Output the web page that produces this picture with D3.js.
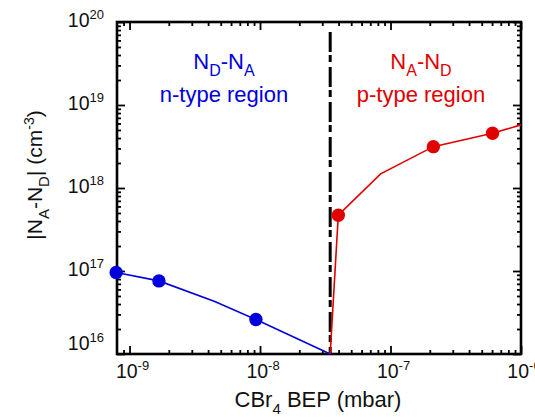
<!DOCTYPE html>
<html><head><meta charset="utf-8">
<script src="https://cdn.jsdelivr.net/npm/d3@7"></script>
<style>
html,body{margin:0;padding:0;background:#fff;}
svg{display:block;font-family:"Liberation Sans",Arial,sans-serif;}
</style></head>
<body>
<svg id="chart" width="535" height="417"></svg>
<script>
// ---- data ----
const nLineX = [7.9e-10, 1.68e-9, 4.5e-9, 9.3e-9, 3.45e-8];
const nLineY = [9.6e16, 7.6e16, 4.3e16, 2.6e16, 1e16];
const nPointX = [7.9e-10, 1.68e-9, 9.3e-9];
const nPointY = [9.6e16, 7.6e16, 2.6e16];
const pLineX = [3.45e-8, 3.98e-8, 8.4e-8, 2.13e-7, 6.05e-7, 1e-6];
const pLineY = [1e16, 4.7e17, 1.48e18, 3.15e18, 4.56e18, 5.76e18];
const pPointX = [3.98e-8, 2.13e-7, 6.05e-7];
const pPointY = [4.7e17, 3.15e18, 4.56e18];
const boundaryX = [3.45e-8];
const xTickExp = [-9, -8, -7, -6];
const yTickExp = [16, 17, 18, 19, 20];

const W = 535, H = 417;
const m = {left: 117, right: 14, top: 22, bottom: 63};
const svg = d3.select("#chart");
const x = d3.scaleLog().domain([Math.pow(10, -9.096), 1e-6]).range([m.left, W - m.right]);
const y = d3.scaleLog().domain([1e16, 1e20]).range([H - m.bottom, m.top]);

const blue = "#0000dc", red = "#e00000";

function minors(scale) {
  const [a, b] = scale.domain();
  const out = [];
  for (let e = Math.floor(Math.log10(a)); e <= Math.ceil(Math.log10(b)); e++) {
    for (let k = 2; k <= 9; k++) {
      const v = k * Math.pow(10, e);
      if (v >= a * 1.0001 && v <= b * 0.9999) out.push(v);
    }
  }
  return out;
}
const xMaj = xTickExp.map(e => Math.pow(10, e));
const yMaj = yTickExp.map(e => Math.pow(10, e));

function axisG(gen, tr) {
  const g = svg.append("g").attr("transform", tr).call(gen);
  g.selectAll("text").remove();
  g.select(".domain").remove();
  g.selectAll("line").attr("stroke", "#000").attr("stroke-width", 1.8);
  return g;
}
const bY = H - m.bottom, tY = m.top, lX = m.left, rX = W - m.right;
axisG(d3.axisBottom(x).tickValues(xMaj).tickSize(-8).tickSizeOuter(0), `translate(0,${bY})`);
axisG(d3.axisBottom(x).tickValues(minors(x)).tickSize(-4).tickSizeOuter(0), `translate(0,${bY})`);
axisG(d3.axisTop(x).tickValues(xMaj).tickSize(-8).tickSizeOuter(0), `translate(0,${tY})`);
axisG(d3.axisTop(x).tickValues(minors(x)).tickSize(-4).tickSizeOuter(0), `translate(0,${tY})`);
axisG(d3.axisLeft(y).tickValues(yMaj).tickSize(-8).tickSizeOuter(0), `translate(${lX},0)`);
axisG(d3.axisLeft(y).tickValues(minors(y)).tickSize(-4).tickSizeOuter(0), `translate(${lX},0)`);
axisG(d3.axisRight(y).tickValues(yMaj).tickSize(-8).tickSizeOuter(0), `translate(${rX},0)`);
axisG(d3.axisRight(y).tickValues(minors(y)).tickSize(-4).tickSizeOuter(0), `translate(${rX},0)`);

svg.append("rect").attr("x", lX).attr("y", tY).attr("width", rX - lX).attr("height", bY - tY)
  .attr("fill", "none").attr("stroke", "#000").attr("stroke-width", 2.6);

// tick labels
const labFont = 19.5, supFont = 13;
function powLabel(g, exp) {
  g.append("tspan").text("10");
  g.append("tspan").attr("font-size", supFont).attr("dy", -8).text(String(exp));
}
xTickExp.forEach(e => {
  const t = svg.append("text").attr("x", x(Math.pow(10, e)) + 3).attr("y", bY + 24)
    .attr("text-anchor", "middle").attr("font-size", labFont).attr("fill", "#111");
  powLabel(t, e);
});
yTickExp.forEach(e => {
  const t = svg.append("text").attr("x", lX - 13).attr("y", y(Math.pow(10, e)) + (e === 16 ? -4 : 5))
    .attr("text-anchor", "end").attr("font-size", labFont).attr("fill", "#111");
  powLabel(t, e);
});

// axis titles
const xt = svg.append("text").attr("x", 318).attr("y", 407).attr("text-anchor", "middle")
  .attr("font-size", 22).attr("fill", "#111");
xt.append("tspan").text("CBr");
xt.append("tspan").attr("font-size", 15).attr("dy", 7).text("4");
xt.append("tspan").attr("dy", -7).text(" BEP (mbar)");

const yt = svg.append("text").attr("transform", "translate(42,175) rotate(-90)").attr("text-anchor", "middle")
  .attr("font-size", 21).attr("fill", "#111");
yt.append("tspan").text("|N");
yt.append("tspan").attr("font-size", 15).attr("dy", 7).text("A");
yt.append("tspan").attr("dy", -7).text("-N");
yt.append("tspan").attr("font-size", 15).attr("dy", 7).text("D");
yt.append("tspan").attr("dy", -7).text("| (cm");
yt.append("tspan").attr("font-size", 14).attr("dy", -8).text("-3");
yt.append("tspan").attr("dy", 8).text(")");

// boundary dash-dot line
svg.selectAll(".bound").data(boundaryX).enter().append("line")
  .attr("x1", d => x(d)).attr("x2", d => x(d)).attr("y1", tY + 10).attr("y2", bY)
  .attr("stroke", "#000").attr("stroke-width", 3).attr("stroke-dasharray", "20,3,7,5");

// lines
const line = d3.line().x(d => x(d[0])).y(d => y(d[1]));
svg.append("path").datum(nLineX.map((v, i) => [v, nLineY[i]])).attr("d", line)
  .attr("fill", "none").attr("stroke", blue).attr("stroke-width", 1.6);
svg.append("path").datum(pLineX.map((v, i) => [v, pLineY[i]])).attr("d", line)
  .attr("fill", "none").attr("stroke", red).attr("stroke-width", 1.6);

// points
svg.selectAll(".np").data(nPointX.map((v, i) => [v, nPointY[i]])).enter().append("circle")
  .attr("cx", d => x(d[0])).attr("cy", d => y(d[1])).attr("r", 6.7).attr("fill", blue);
svg.selectAll(".pp").data(pPointX.map((v, i) => [v, pPointY[i]])).enter().append("circle")
  .attr("cx", d => x(d[0])).attr("cy", d => y(d[1])).attr("r", 6.7).attr("fill", red);

// region labels
function regionLabel(cx, main1, sub1, main2, sub2, line2, color) {
  const t = svg.append("text").attr("x", cx).attr("y", 69).attr("text-anchor", "middle")
    .attr("font-size", 22).attr("fill", color);
  t.append("tspan").text(main1);
  t.append("tspan").attr("font-size", 16).attr("dy", 7).text(sub1);
  t.append("tspan").attr("dy", -7).text(main2);
  t.append("tspan").attr("font-size", 16).attr("dy", 7).text(sub2);
  svg.append("text").attr("x", cx).attr("y", 102).attr("text-anchor", "middle")
    .attr("font-size", 22).attr("fill", color).text(line2);
}
regionLabel(224, "N", "D", "-N", "A", "n-type region", blue);
regionLabel(421, "N", "A", "-N", "D", "p-type region", red);
</script>
</body></html>
